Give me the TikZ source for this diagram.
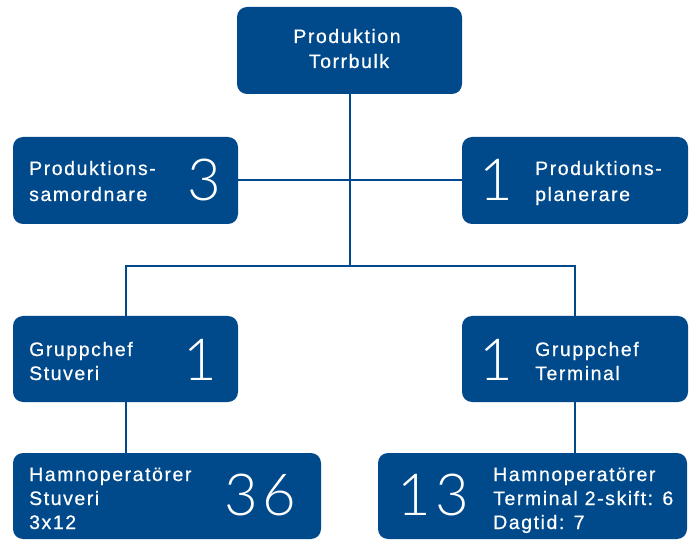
\documentclass[tikz,border=0pt]{standalone}
\usepackage{fontspec}
\setmainfont{Liberation Sans}
\IfFontExistsTF{Lato Light}{\newfontfamily\numfont{Lato Light}}{\newfontfamily\numfont{Liberation Sans}}
\definecolor{hblue}{RGB}{0,74,140}
\tikzset{
  box/.style={fill=hblue, rounded corners=10pt, draw=none, inner sep=0pt},
  conn/.style={draw=hblue, line width=2pt},
  lbl/.style={text=white, font=\fontsize{19.5}{22}\selectfont\addfontfeature{LetterSpace=8,FakeBold=0.6}, anchor=base west, inner sep=0pt},
  clbl/.style={lbl, anchor=base},
  num/.style={text=white, font=\numfont\fontsize{58}{58}\selectfont\addfontfeature{LetterSpace=8}, anchor=base, inner sep=0pt}
}
\begin{document}
\begin{tikzpicture}[x=1pt,y=-1pt]
\useasboundingbox (0,0) rectangle (694,540);
% boxes
\node[box, minimum width=225pt, minimum height=87pt] (top) at (349.5,50.5) {};
\node[box, minimum width=225pt, minimum height=87pt] (sam) at (125.5,180.5) {};
\node[box, minimum width=226pt, minimum height=87pt] (plan) at (575,180.5) {};
\node[box, minimum width=225pt, minimum height=86pt] (gcS) at (125.5,359) {};
\node[box, minimum width=226pt, minimum height=86pt] (gcT) at (575,359) {};
\node[box, minimum width=308pt, minimum height=86pt] (hoS) at (167,496) {};
\node[box, minimum width=309pt, minimum height=86pt] (hoT) at (532.5,496) {};
% connectors
\coordinate (bus) at (349.5,266);
\draw[conn] (top.south) -- (bus);
\draw[conn] (sam.east) -- (plan.west);
\draw[conn] (gcS.north) |- (bus) -| (gcT.north);
\draw[conn] (gcS.south) -- (gcS.south |- hoS.north);
\draw[conn] (gcT.south) -- (gcT.south |- hoT.north);
% texts
\node[clbl] (t1) at (347,43) {Produktion};
\node[clbl] (t2) at (349,68) {Torrbulk};
\node[lbl] (s1) at (29,175) {Produktions-};
\node[lbl] (s2) at (29,201) {samordnare};
\node[num] (sn) at (204,201) {3};
\node[lbl] (p1) at (535,175) {Produktions-};
\node[lbl] (p2) at (535,201) {planerare};
\node[num] (pn) at (496,201) {1};
\node[lbl] (g1) at (29,356) {Gruppchef};
\node[lbl] (g2) at (29,380) {Stuveri};
\node[num] (gn) at (200,380) {1};
\node[lbl] (h1) at (535,356) {Gruppchef};
\node[lbl] (h2) at (535,380) {Terminal};
\node[num] (hn) at (496,380) {1};
\node[lbl] (a1) at (29,481) {Hamnoperatörer};
\node[lbl] (a2) at (29,505) {Stuveri};
\node[lbl] (a3) at (29,529) {3x12};
\node[num] (an) at (260,515) {36};
\node[lbl] (b1) at (493,481) {Hamnoperatörer};
\node[lbl] (b2) at (493,505) {Terminal 2-skift: 6};
\node[lbl] (b3) at (493,529) {Dagtid: 7};
\node[num] (bn) at (433,515) {13};
\end{tikzpicture}
\end{document}
